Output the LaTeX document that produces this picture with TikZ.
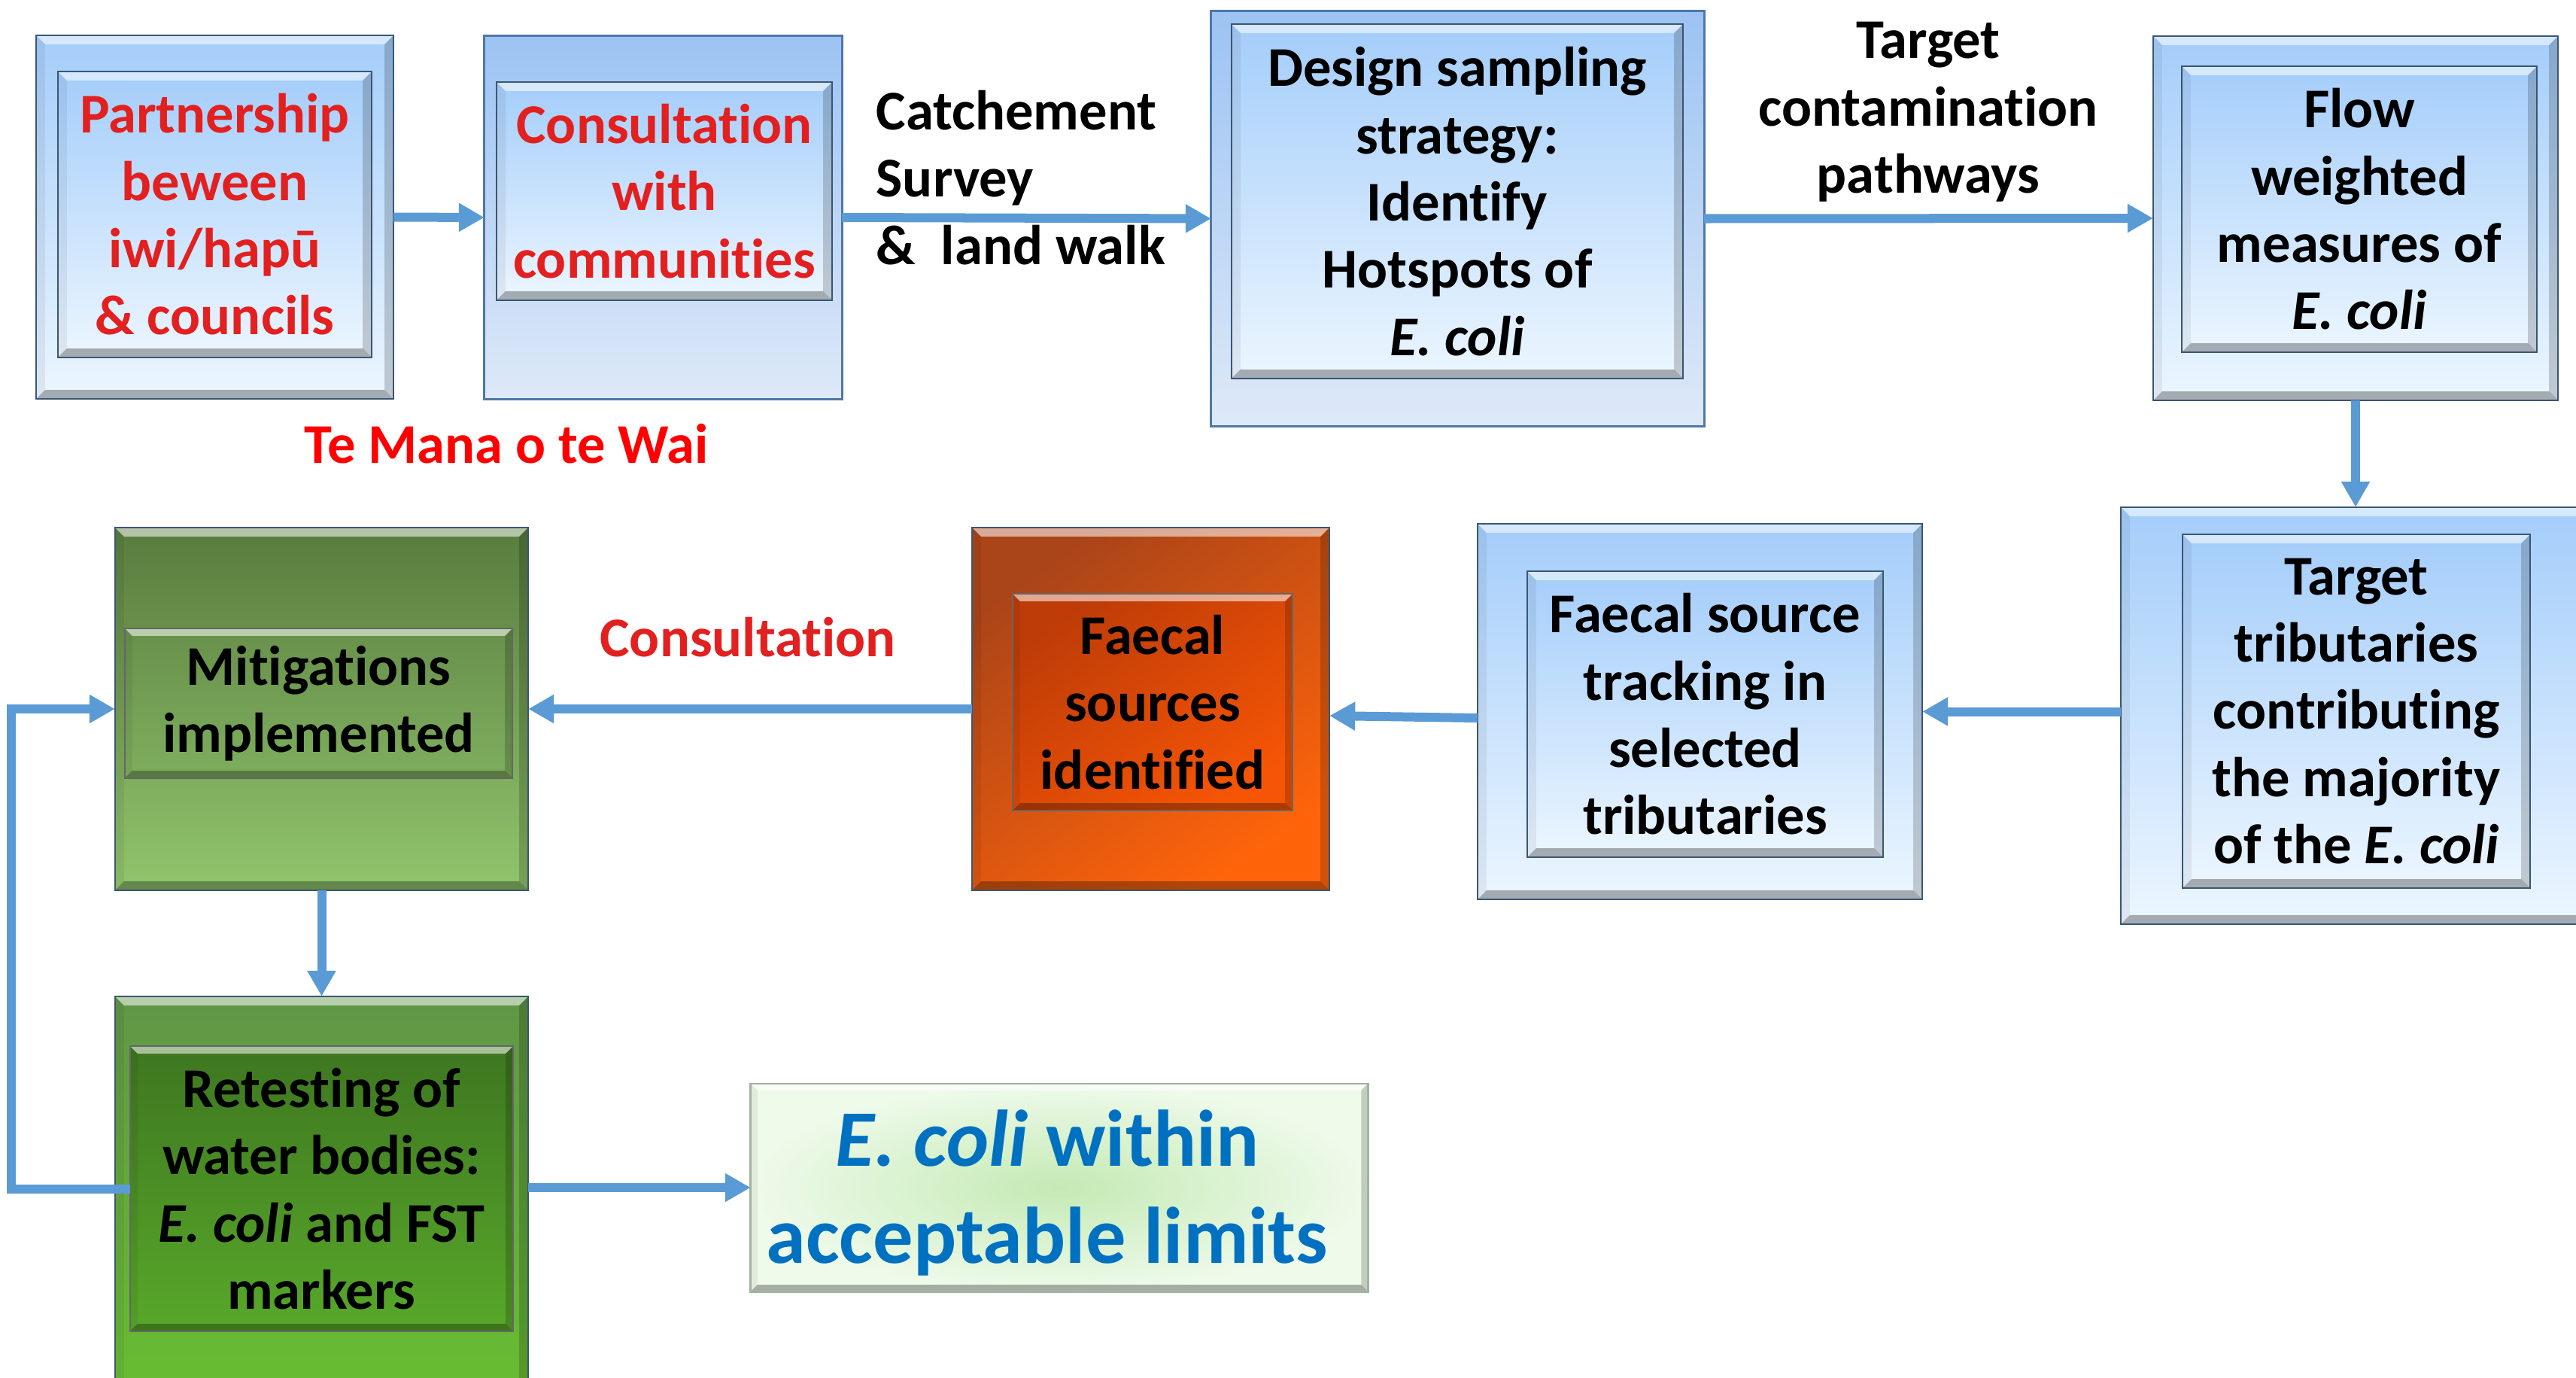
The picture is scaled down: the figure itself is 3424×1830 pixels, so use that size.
\documentclass[tikz,border=0pt]{standalone}
\usepackage{fontspec}
\setmainfont{Carlito}[Ligatures=NoCommon]
\usetikzlibrary{arrows.meta,calc}
\definecolor{arrblue}{RGB}{91,155,213}
\definecolor{bluetop}{RGB}{164,205,250}
\definecolor{bluebot}{RGB}{236,246,255}
\definecolor{flattop}{RGB}{156,195,243}
\definecolor{flatbot}{RGB}{222,233,248}
\definecolor{flatline}{RGB}{79,119,170}
\definecolor{edgeline}{RGB}{58,86,116}
\definecolor{boxred}{RGB}{226,32,32}
\definecolor{labred}{RGB}{255,0,0}
\definecolor{gAtop}{RGB}{88,124,62}
\definecolor{gAbot}{RGB}{145,196,108}
\definecolor{gAitop}{RGB}{104,144,75}
\definecolor{gAibot}{RGB}{127,174,94}
\definecolor{gBtop}{RGB}{96,150,70}
\definecolor{gBbot}{RGB}{104,190,50}
\definecolor{gBitop}{RGB}{62,118,32}
\definecolor{gBibot}{RGB}{88,168,42}
\definecolor{oAtop}{RGB}{170,68,25}
\definecolor{oAbot}{RGB}{255,100,10}
\definecolor{oBtop}{RGB}{190,60,8}
\definecolor{oBbot}{RGB}{245,85,5}
\definecolor{limin}{RGB}{196,234,180}
\definecolor{limout}{RGB}{238,250,234}
\definecolor{limline}{RGB}{160,180,160}
\definecolor{textblue}{RGB}{0,112,192}
\newcommand\mybevel[1]{%
 \coordinate (bvSW) at (path picture bounding box.south west);
 \coordinate (bvNE) at (path picture bounding box.north east);
 \coordinate (bvNW) at (path picture bounding box.north west);
 \coordinate (bvSE) at (path picture bounding box.south east);
 \fill[white,opacity=0.55] (bvNW) -- (bvNE) -- ([shift={(-#1,-#1)}]bvNE) -- ([shift={(#1,-#1)}]bvNW) -- cycle;
 \fill[black,opacity=0.3] (bvSW) -- (bvSE) -- ([shift={(-#1,#1)}]bvSE) -- ([shift={(#1,#1)}]bvSW) -- cycle;
 \fill[black,opacity=0.06] (bvNW) -- (bvSW) -- ([shift={(#1,#1)}]bvSW) -- ([shift={(#1,-#1)}]bvNW) -- cycle;
 \fill[black,opacity=0.18] (bvNE) -- (bvSE) -- ([shift={(-#1,#1)}]bvSE) -- ([shift={(-#1,-#1)}]bvNE) -- cycle;
}
\tikzset{
  anybox/.style={rectangle, inner sep=0pt, outer sep=0pt, align=center},
  bluebox/.style={anybox, draw=edgeline, line width=0.6pt, top color=bluetop, bottom color=bluebot, path picture={\mybevel{0.12cm}}},
  flatbox/.style={anybox, draw=flatline, line width=0.8pt, top color=flattop, bottom color=flatbot},
  greenA/.style={anybox, draw=edgeline, line width=0.6pt, top color=gAtop, bottom color=gAbot, path picture={\mybevel{0.12cm}}},
  greenAi/.style={anybox, draw=black!60, line width=0.5pt, top color=gAitop, bottom color=gAibot, path picture={\mybevel{0.1cm}}},
  greenB/.style={anybox, draw=edgeline, line width=0.6pt, top color=gBtop, bottom color=gBbot, path picture={\mybevel{0.12cm}}},
  greenBi/.style={anybox, draw=black!60, line width=0.5pt, top color=gBitop, bottom color=gBibot, path picture={\mybevel{0.1cm}}},
  orangeA/.style={anybox, draw=edgeline, line width=0.6pt, top color=oAtop, bottom color=oAbot, shading angle=35, path picture={\mybevel{0.12cm}}},
  orangeB/.style={anybox, draw=black!60, line width=0.5pt, top color=oBtop, bottom color=oBbot, shading angle=35, path picture={\mybevel{0.1cm}}},
  limitbox/.style={anybox, draw=limline, line width=0.8pt, inner color=limin, outer color=limout, path picture={\mybevel{0.09cm}}},
  arr/.style={draw=arrblue, line width=0.12cm, -{Triangle[length=0.34cm,width=0.36cm]}},
  lab/.style={inner sep=0pt, align=center},
}
\begin{document}
\begin{tikzpicture}[x=0.01cm,y=-0.01cm, font=\bfseries\fontsize{21.2}{25.4}\selectfont]
\useasboundingbox (0,0) rectangle (3424,1830);
\clip (0,0) rectangle (3424,1830);
% row 1
\node[bluebox, minimum width=4.75cm, minimum height=4.83cm] (b1) at (285.5,288.5) {};
\node[bluebox, text=boxred, minimum width=4.17cm, minimum height=3.80cm] (b1i) at (285.5,285) {Partnership\\beween\\iwi/hapū\\\& councils};
\node[flatbox, minimum width=4.75cm, minimum height=4.82cm] (b2) at (881.5,289) {};
\node[bluebox, text=boxred, minimum width=4.46cm, minimum height=2.90cm] (b2i) at (883,254) {Consultation\\with\\communities};
\node[flatbox, minimum width=6.55cm, minimum height=5.51cm] (b3) at (1937.5,290.5) {};
\node[bluebox, minimum width=6.00cm, minimum height=4.71cm] (b3i) at (1937,267.5) {Design sampling\\strategy:\\Identify\\Hotspots of\\\textit{E. coli}};
\node[bluebox, minimum width=5.38cm, minimum height=4.84cm] (b4) at (3131,290) {};
\node[bluebox, minimum width=4.72cm, minimum height=3.80cm] (b4i) at (3136,278) {Flow\\weighted\\measures of\\\textit{E. coli}};
% row 2
\node[bluebox, minimum width=6.41cm, minimum height=5.54cm] (b5) at (3139.5,951) {};
\node[bluebox, minimum width=4.62cm, minimum height=4.70cm] (b5i) at (3132,945) {Target\\tributaries\\contributing\\the majority\\of the \textit{E. coli}};
\node[bluebox, minimum width=5.91cm, minimum height=4.99cm] (b6) at (2259.5,945.5) {};
\node[bluebox, minimum width=4.73cm, minimum height=3.80cm] (b6i) at (2266.5,949) {Faecal source\\tracking in\\selected\\tributaries};
\node[orangeA, minimum width=4.75cm, minimum height=4.82cm] (b7) at (1529.5,942) {};
\node[orangeB, minimum width=3.72cm, minimum height=2.88cm] (b7i) at (1532,933) {Faecal\\sources\\identified};
\node[greenA, minimum width=5.49cm, minimum height=4.82cm] (b8) at (427.5,942) {};
\node[greenAi, minimum width=5.15cm, minimum height=1.99cm] (b8i) at (423.5,934.5) {Mitigations\\implemented};
% row 3
\node[greenB, minimum width=5.49cm, minimum height=5.36cm] (b9) at (427.5,1592) {};
\node[greenBi, minimum width=5.09cm, minimum height=3.79cm] (b9i) at (427.5,1579.5) {Retesting of\\water bodies:\\\textit{E. coli} and FST\\markers};
\node[limitbox, minimum width=8.20cm, minimum height=2.76cm] (b10) at (1408,1578) {};
\node[lab, text=textblue, font=\bfseries\fontsize{30.3}{36.9}\selectfont] (b10t) at (1392,1585) {\textit{E. coli} within\\acceptable limits};
% connectors
\draw[arr] (b1.east) -- (b2.west);
\draw[arr] (b2.east) -- (b3.west);
\draw[arr] (b3.east) -- (b4.west);
\draw[arr] (b4.south) -- (b4.south |- b5.north);
\draw[arr] (b6.east -| b5.west) -- (b6.east);
\draw[arr] ([yshift=-0.085cm]b6.west) -- ([yshift=-0.09cm]b7.east);
\draw[arr] (b7.west) -- (b8.east);
\draw[arr] (b8.south) -- (b9.north);
\draw[arr] (b9.east |- b10.west) -- (b10.west);
\coordinate (loopx) at (15,942);
\draw[arr] (b9i.west) -- (b9i.west -| loopx) -- (loopx) -- (b8.west);
% labels
\node[lab, align=left, anchor=west] (l1) at (1164,236) {Catchement\\Survey\\\&\ \ land walk};
\node[lab] (l2) at (2563,149) {Target\\contamination\\pathways};
\node[lab, text=labred] (l3) at (673,590) {Te Mana o te Wai};
\node[lab, text=boxred] (l4) at (994,847) {Consultation};
\end{tikzpicture}
\end{document}
